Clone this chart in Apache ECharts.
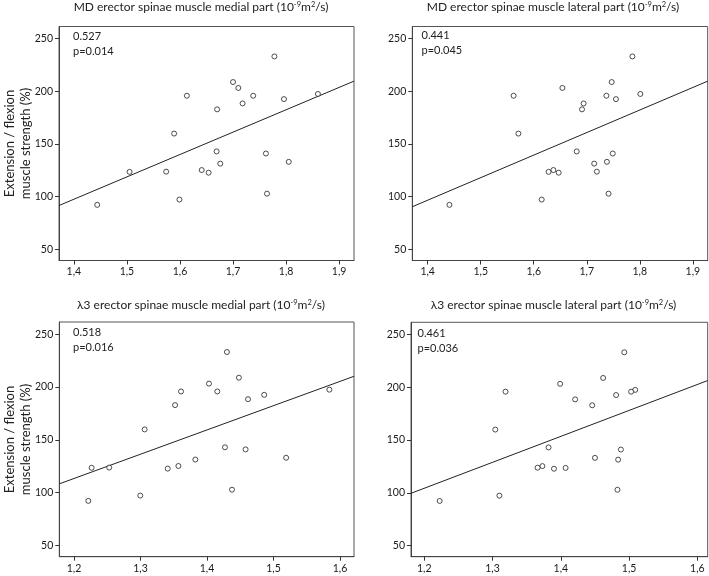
<!DOCTYPE html>
<html>
<head>
<meta charset="utf-8">
<script src="https://cdn.jsdelivr.net/npm/echarts@6/dist/echarts.min.js"></script>
<style>
html,body{margin:0;padding:0;background:#fff;}
#c{width:709px;height:576px;}
</style>
</head>
<body>
<div id="c"></div>
<script>
// ---- data ----
const strength = [92.3, 97.3, 102.9, 159.9, 233.1, 208.8, 203.2, 197.5, 192.6, 188.5, 182.9, 195.8, 195.8, 143.0, 141.0, 133.1, 131.4, 125.3, 123.6, 123.8, 122.8];
const mdMedial  = [1.444, 1.599, 1.764, 1.589, 1.778, 1.700, 1.710, 1.860, 1.796, 1.718, 1.670, 1.613, 1.738, 1.669, 1.762, 1.805, 1.676, 1.641, 1.505, 1.574, 1.654];
const mdLateral = [1.441, 1.615, 1.741, 1.571, 1.786, 1.747, 1.654, 1.801, 1.755, 1.694, 1.691, 1.562, 1.737, 1.681, 1.749, 1.738, 1.714, 1.637, 1.628, 1.719, 1.647];
const l3Medial  = [1.2216, 1.2997, 1.4376, 1.3063, 1.430, 1.448, 1.403, 1.584, 1.486, 1.4617, 1.352, 1.361, 1.4155, 1.427, 1.458, 1.519, 1.3825, 1.357, 1.2266, 1.253, 1.341];
const l3Lateral = [1.2225, 1.310, 1.483, 1.304, 1.493, 1.462, 1.399, 1.509, 1.481, 1.421, 1.446, 1.319, 1.503, 1.382, 1.488, 1.450, 1.484, 1.373, 1.407, 1.366, 1.390];

const titles = [
  'MD erector spinae muscle medial part (10{sup|-9}m{sup|2}/s)',
  'MD erector spinae muscle lateral part (10{sup|-9}m{sup|2}/s)',
  'λ3 erector spinae muscle medial part (10{sup|-9}m{sup|2}/s)',
  'λ3 erector spinae muscle lateral part (10{sup|-9}m{sup|2}/s)'
];
const coefText = ['0.527', '0.441', '0.518', '0.461'];
const pText = ['p=0.014', 'p=0.045', 'p=0.016', 'p=0.036'];
const yTicks = [50, 100, 150, 200, 250];
const xTicksMD = [1.4, 1.5, 1.6, 1.7, 1.8, 1.9];
const xTicksL3 = [1.2, 1.3, 1.4, 1.5, 1.6];
const yNameLines = ['Extension / flexion', 'muscle strength (%)'];

// ---- layout ----
const FONT = 'Lato, "Open Sans", sans-serif';
const panels = [
  {xs: mdMedial,  ticks: xTicksMD, xmin: 1.372, xmax: 1.928, grid: {left: 59, top: 26.5, width: 295, height: 234}, tx: 201, ty: 7.5, ax: 73, ay: 36.5},
  {xs: mdLateral, ticks: xTicksMD, xmin: 1.371, xmax: 1.928, grid: {left: 412.3, top: 26.5, width: 295.4, height: 234}, tx: 553, ty: 7.5, ax: 421.5, ay: 35.5},
  {xs: l3Medial,  ticks: xTicksL3, xmin: 1.178, xmax: 1.621, grid: {left: 59.3, top: 322, width: 294.7, height: 234.7}, tx: 201, ty: 305, ax: 73, ay: 332.5},
  {xs: l3Lateral, ticks: xTicksL3, xmin: 1.1805, xmax: 1.6152, grid: {left: 411, top: 322.3, width: 296.7, height: 234.4}, tx: 553.5, ty: 305, ax: 417.5, ay: 333.5}
];

function fit(xs, ys) {
  const n = xs.length;
  let mx = 0, my = 0;
  for (let i = 0; i < n; i++) { mx += xs[i]; my += ys[i]; }
  mx /= n; my /= n;
  let sxy = 0, sxx = 0;
  for (let i = 0; i < n; i++) { sxy += (xs[i] - mx) * (ys[i] - my); sxx += (xs[i] - mx) * (xs[i] - mx); }
  const b = sxy / sxx;
  return {a: my - b * mx, b: b};
}

const grids = [], xAxes = [], yAxes = [], series = [], graphics = [];
panels.forEach((p, i) => {
  grids.push(Object.assign({show: true, borderColor: '#555', borderWidth: 1, backgroundColor: 'transparent'}, p.grid));
  xAxes.push({
    type: 'value', gridIndex: i, min: p.xmin, max: p.xmax,
    axisLine: {show: true, onZero: false, lineStyle: {color: '#444', width: 1}},
    axisTick: {show: true, length: 4, customValues: p.ticks, lineStyle: {color: '#333'}},
    axisLabel: {customValues: p.ticks, color: '#1a1a1a', fontSize: 10.5, fontFamily: FONT, margin: 6,
      formatter: v => v.toFixed(1).replace('.', ',')},
    splitLine: {show: false}
  });
  yAxes.push({
    type: 'value', gridIndex: i, min: 39.5, max: 261.5,
    axisLine: {show: true, onZero: false, lineStyle: {color: '#444', width: 1}},
    axisTick: {show: true, length: 4, customValues: yTicks, lineStyle: {color: '#333'}},
    axisLabel: {customValues: yTicks, color: '#1a1a1a', fontSize: 10.5, fontFamily: FONT, margin: 6},
    splitLine: {show: false}
  });
  const pts = p.xs.map((x, k) => [x, strength[k]]);
  series.push({
    type: 'scatter', xAxisIndex: i, yAxisIndex: i, data: pts,
    symbol: 'circle', symbolSize: 5,
    itemStyle: {color: '#fff', borderColor: '#222', borderWidth: 1},
    silent: true, z: 3
  });
  const f = fit(p.xs, strength);
  series.push({
    type: 'line', xAxisIndex: i, yAxisIndex: i,
    data: [[p.xmin, f.a + f.b * p.xmin], [p.xmax, f.a + f.b * p.xmax]],
    symbol: 'none', lineStyle: {color: '#222', width: 1}, silent: true, z: 2
  });
  graphics.push({
    type: 'text', x: p.tx, y: p.ty,
    style: {text: titles[i], align: 'center', verticalAlign: 'middle', fill: '#222',
      font: '12px ' + FONT,
      rich: {sup: {fontSize: 7.5, fontFamily: FONT, fill: '#222', verticalAlign: 'top', padding: [0, 0, 5, 0]}}}
  });
  graphics.push({
    type: 'text', x: p.ax, y: p.ay,
    style: {text: coefText[i], align: 'left', verticalAlign: 'middle', fill: '#222', font: '11px ' + FONT}
  });
  graphics.push({
    type: 'text', x: p.ax, y: p.ay + 15,
    style: {text: pText[i], align: 'left', verticalAlign: 'middle', fill: '#222', font: '11px ' + FONT}
  });
});

// y-axis names on the left panels
[143.5, 439.5].forEach(cy => {
  graphics.push({type: 'text', x: 10, y: cy, rotation: Math.PI / 2,
    style: {text: yNameLines[0], align: 'center', verticalAlign: 'middle', fill: '#222', font: '13px ' + FONT}});
  graphics.push({type: 'text', x: 25.5, y: cy, rotation: Math.PI / 2,
    style: {text: yNameLines[1], align: 'center', verticalAlign: 'middle', fill: '#222', font: '13px ' + FONT}});
});

const chart = echarts.init(document.getElementById('c'), null, {renderer: 'canvas'});
chart.setOption({
  animation: false,
  backgroundColor: '#fff',
  grid: grids, xAxis: xAxes, yAxis: yAxes, series: series,
  graphic: graphics
});
</script>
</body>
</html>
